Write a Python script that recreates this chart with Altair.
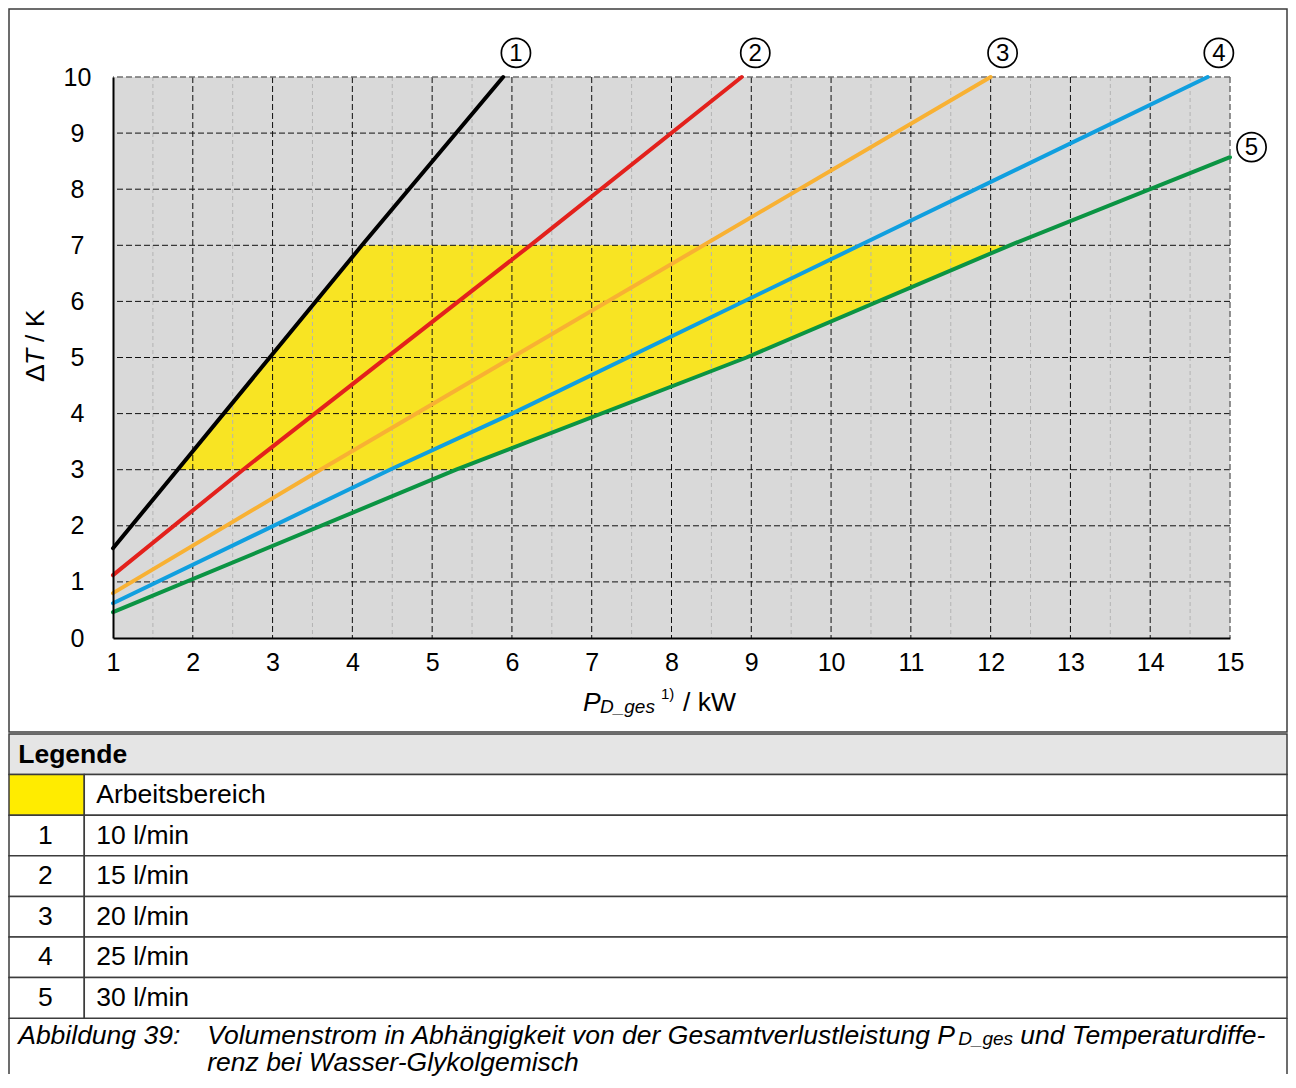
import altair as alt
import pandas as pd

FONT = "Liberation Sans"

# ---------------- values ----------------
curve_ids = ["1", "2", "3", "4", "5"]
flow_labels = ["10 l/min", "15 l/min", "20 l/min", "25 l/min", "30 l/min"]
curve_colors = ["#000000", "#e3211c", "#f8b133", "#109fdf", "#0b9443"]

p_1 = [1.0, 1.81, 4.12, 5.89]
dt_1 = [1.60, 3.0, 7.0, 10.0]
p_2 = [1.0, 2.63, 6.23, 8.88]
dt_2 = [1.12, 3.0, 7.0, 10.0]
p_3 = [1.0, 3.60, 6.00, 12.0]
dt_3 = [0.80, 3.0, 5.0, 10.0]
p_4 = [1.0, 4.47, 6.00, 10.36, 14.72]
dt_4 = [0.62, 3.0, 4.0, 7.0, 10.0]
p_5 = [1.0, 5.30, 8.94, 12.24, 15.0]
dt_5 = [0.46, 3.0, 5.0, 7.0, 8.57]

# working range (yellow) between dT = 3 and 7, bounded by curve 1 and curve 5
range_dt = [3.0, 5.0, 7.0]
range_p_left = [1.83, 2.98, 4.12]
range_p_right = [5.28, 8.92, 12.20]

# circled curve numbers
label_p = [6.05, 9.05, 12.15, 14.86, 15.27]
label_dt = [10.43, 10.43, 10.43, 10.43, 8.75]

x_ticks = list(range(1, 16))
y_ticks = list(range(0, 11))
x_minor = [v + 0.5 for v in range(1, 15)]

legend_title = "Legende"
range_label = "Arbeitsbereich"
caption_num = "Abbildung 39:"
caption_a = "Volumenstrom in Abhängigkeit von der Gesamtverlustleistung P"
caption_sub = "D_ges"
caption_b = "und Temperaturdiffe-"
caption_c = "renz bei Wasser-Glykolgemisch"

# ---------------- colours / styles ----------------
YELLOW = "#f8e423"
SWATCH = "#ffec00"
PLOT_BG = "#d9d9d9"
BORDER = "#3c3c3c"
TXT = 26.5

# ---------------- chart A: diagram ----------------
W, H = 1117, 561
FRAME_L, FRAME_R, FRAME_T, FRAME_B = -104, 1174, -68, 655
xs = alt.Scale(domain=[1, 15], nice=False, zero=False)
ys = alt.Scale(domain=[0, 10], nice=False, zero=False)
x_axis = alt.Axis(values=x_ticks, title=None, grid=False, ticks=False,
                  labelFont=FONT, labelFontSize=25, labelColor="#000",
                  labelPadding=12, labelFlush=False, labelOverlap=False,
                  labelBound=False, domainColor="#000", domainWidth=2, zindex=1)
y_axis = alt.Axis(values=y_ticks, title=None, grid=False, ticks=False,
                  labelFont=FONT, labelFontSize=25, labelColor="#000",
                  labelAlign="center", labelBaseline="middle", labelPadding=36,
                  labelOverlap=False, domainColor="#000", domainWidth=2, zindex=1)


def X(f):
    return alt.X(f, scale=xs, axis=x_axis)


def Y(f):
    return alt.Y(f, scale=ys, axis=y_axis)


rows = []
for cid, ps, ds in zip(curve_ids, [p_1, p_2, p_3, p_4, p_5],
                       [dt_1, dt_2, dt_3, dt_4, dt_5]):
    for i, (p, d) in enumerate(zip(ps, ds)):
        rows.append({"curve": cid, "P": p, "dT": d, "i": i})
lines_df = pd.DataFrame(rows)

area_df = pd.DataFrame({"dT": range_dt, "left": range_p_left, "right": range_p_right})
labels_df = pd.DataFrame({"curve": curve_ids, "P": label_p, "dT": label_dt})
one = pd.DataFrame({"a": [0]})

area = alt.Chart(area_df).mark_area(orient="horizontal", color=YELLOW, opacity=1).encode(
    y=Y("dT:Q"), x=X("left:Q"), x2="right:Q")

minor = alt.Chart(pd.DataFrame({"v": x_minor})).mark_rule(
    color="#b3b3b3", strokeWidth=1, strokeDash=[4, 3]).encode(x=X("v:Q"))
grid_x = alt.Chart(pd.DataFrame({"v": x_ticks[1:-1]})).mark_rule(
    color="#111111", strokeWidth=1, strokeDash=[6, 3]).encode(x=X("v:Q"))
grid_y = alt.Chart(pd.DataFrame({"v": y_ticks[1:-1]})).mark_rule(
    color="#111111", strokeWidth=1, strokeDash=[6, 3]).encode(y=Y("v:Q"))
edge_x = alt.Chart(pd.DataFrame({"v": x_ticks[-1:]})).mark_rule(
    color="#707070", strokeWidth=1.5, strokeDash=[6, 3]).encode(x=X("v:Q"))
edge_y = alt.Chart(pd.DataFrame({"v": y_ticks[-1:]})).mark_rule(
    color="#707070", strokeWidth=1.5, strokeDash=[6, 3]).encode(y=Y("v:Q"))

lines = alt.Chart(lines_df).mark_line(strokeWidth=4, strokeCap="round").encode(
    x=X("P:Q"), y=Y("dT:Q"),
    color=alt.Color("curve:N", scale=alt.Scale(domain=curve_ids, range=curve_colors),
                    legend=None),
    order="i:Q")

circles = alt.Chart(labels_df).mark_point(
    shape="circle", size=850, filled=False, color="#000", strokeWidth=1.7, opacity=1).encode(
    x=X("P:Q"), y=Y("dT:Q"))
numbers = alt.Chart(labels_df).mark_text(
    font=FONT, fontSize=24, color="#000", align="center", baseline="middle", dy=1).encode(
    x=X("P:Q"), y=Y("dT:Q"), text="curve:N")


def ptext(txt, x, y, size, style="normal", angle=0, baseline="alphabetic"):
    return alt.Chart(one).mark_text(
        text=txt, font=FONT, fontSize=size, fontStyle=style,
        align="left", baseline=baseline, angle=angle, color="#000").encode(
        x=alt.value(x), y=alt.value(y))


x_title = [
    ptext("P", 470, 634, 26.5, "italic"),
    ptext("D_ges", 487, 636, 19, "italic"),
    ptext("1)", 548, 622, 15),
    ptext("/ kW", 570, 634, 26.5),
]
y_title = [
    ptext("Δ", -77, 305, 26.5, angle=270, baseline="middle"),
    ptext("T", -77, 288, 26.5, "italic", angle=270, baseline="middle"),
    ptext("/ K", -77, 265, 26.5, angle=270, baseline="middle"),
]

frame = alt.Chart(one).mark_rect(fillOpacity=0, stroke=BORDER, strokeWidth=1.5).encode(
    x=alt.value(FRAME_L), x2=alt.value(FRAME_R), y=alt.value(FRAME_T), y2=alt.value(FRAME_B))

chart_a = alt.layer(
    area, minor, grid_x, grid_y, edge_x, edge_y, lines, circles, numbers,
    *x_title, *y_title, frame
).properties(width=W, height=H, view=alt.ViewBackground(fill=PLOT_BG, stroke=None))

# ---------------- chart B: legend table ----------------
TH = 340
ROW = 40.6
ymax = TH / ROW
COL = 0.0589
FW = FRAME_R - FRAME_L
# table x runs 0..1 across the outer frame; the view has the plot's width
tx = alt.Scale(domain=[-FRAME_L / FW, (W - FRAME_L) / FW], nice=False, zero=False)
ty = alt.Scale(domain=[0, ymax], nice=False, zero=False, reverse=True)

cells = [{"x0": 0, "x1": 1, "y0": 0, "y1": 1, "fill": "#e5e5e5"}]
for r in range(6):
    cells.append({"x0": 0, "x1": COL, "y0": r + 1, "y1": r + 2,
                  "fill": SWATCH if r == 0 else "#ffffff"})
    cells.append({"x0": COL, "x1": 1, "y0": r + 1, "y1": r + 2, "fill": "#ffffff"})
cells_df = pd.DataFrame(cells)


def TX(f):
    return alt.X(f, scale=tx, axis=None)


def TY(f):
    return alt.Y(f, scale=ty, axis=None)


table_cells = alt.Chart(cells_df).mark_rect(stroke=BORDER, strokeWidth=1.5).encode(
    x=TX("x0:Q"), x2="x1:Q", y=TY("y0:Q"), y2="y1:Q",
    fill=alt.Fill("fill:N", scale=None))

side_df = pd.DataFrame({"x": [0, 1], "y0": [7, 7], "y1": [ymax, ymax]})
caption_sides = alt.Chart(side_df).mark_rule(color=BORDER, strokeWidth=1.5).encode(
    x=TX("x:Q"), y=TY("y0:Q"), y2="y1:Q")

keys_df = pd.DataFrame({"t": curve_ids, "y": [r + 2.5 for r in range(5)]})
labels_t_df = pd.DataFrame({"t": [range_label] + flow_labels,
                            "y": [r + 1.5 for r in range(6)]})


def ttext(df, x, size, style="normal", weight="normal", align="left"):
    return alt.Chart(df).mark_text(
        font=FONT, fontSize=size, fontStyle=style, fontWeight=weight, align=align,
        baseline="middle", color="#000").encode(
        x=TX("xx:Q"), y=TY("y:Q"), text="t:N"
    ).transform_calculate(xx=str(x))


def single(t, y):
    return pd.DataFrame({"t": [t], "y": [y]})


header = ttext(single(legend_title, 0.52), 0.0072, TXT, weight="bold")
keys = ttext(keys_df, 0.0284, TXT, align="center")
labels_t = ttext(labels_t_df, 0.0683, TXT)
cap1 = ttext(single(caption_num, 7.43), 0.0072, TXT, "italic")
cap2 = ttext(single(caption_a, 7.43), 0.1551, TXT, "italic")
cap3 = ttext(single(caption_sub, 7.51), 0.7427, 19, "italic")
cap4 = ttext(single(caption_b, 7.43), 0.7913, TXT, "italic")
cap5 = ttext(single(caption_c, 8.10), 0.1551, TXT, "italic")

chart_b = alt.layer(
    table_cells, caption_sides, header, keys, labels_t, cap1, cap2, cap3, cap4, cap5
).properties(width=W, height=TH)

chart = alt.vconcat(chart_a, chart_b, spacing=0).resolve_scale(
    x="independent", y="independent", color="independent"
).configure_view(stroke=None).properties(padding=0)

chart.save("out.html", embed_options={"renderer": "svg", "actions": False})
